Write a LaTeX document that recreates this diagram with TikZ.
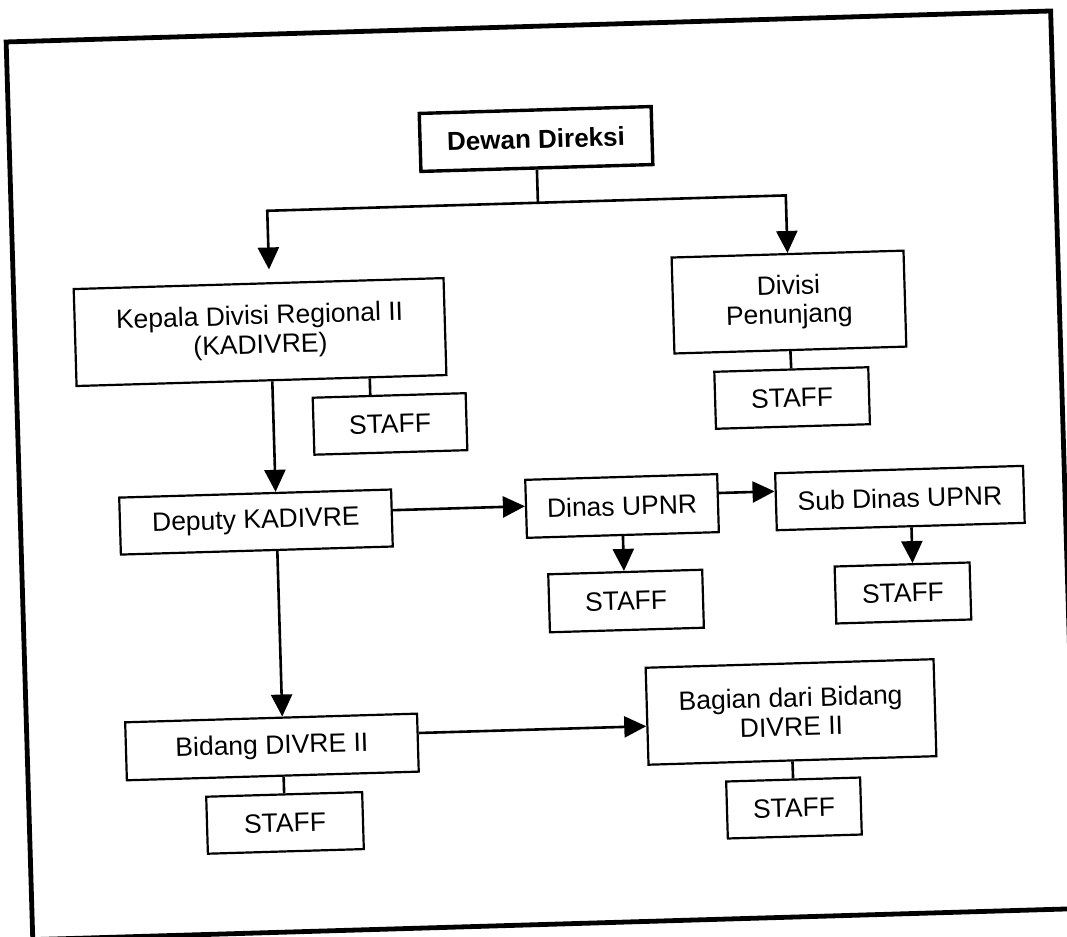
\documentclass[tikz,border=0pt]{standalone}
\usepackage{fontspec}
\setmainfont{Liberation Sans}
\usetikzlibrary{arrows.meta,calc}
\begin{document}
\begin{tikzpicture}[x=0.5pt,y=-0.5pt,
  box/.style={draw,line width=1.1pt,inner sep=0pt,align=center,font=\fontsize{13.25}{14.5}\selectfont},
  staffbox/.style={box,minimum height=28.5pt},
  arr/.style={line width=1.3pt,-{Triangle[length=11pt,width=10.5pt]}},
  link/.style={line width=1.3pt},
  frame/.style={line width=2.4pt}]
\useasboundingbox (0,0) rectangle (1067,937);
\clip (0,0) rectangle (1067,937);
\begin{scope}[rotate around={1.7:(533.5,468.5)},transform shape]
  % outer frame
  \draw[frame] (19,26.5) rectangle (1064,924.6);

  % nodes
  \node[box,minimum width=116pt,minimum height=29pt,line width=1.7pt,
        font=\bfseries\fontsize{13}{15}\selectfont] (dewan) at (545.8,139.2) {Dewan Direksi};
  \node[box,minimum width=185pt,minimum height=48.5pt] (kepala) at (264.2,324.0) {Kepala Divisi Regional II\\(KADIVRE)};
  \node[staffbox,minimum width=76.5pt] (kstaff) at (391.4,419.7) {STAFF};
  \node[box,minimum width=116pt,minimum height=48pt] (divisi) at (793.8,309.7) {Divisi\\Penunjang};
  \node[staffbox,minimum width=77pt] (dvstaff) at (794.1,405.7) {STAFF};
  \node[box,minimum width=136pt,minimum height=28.5pt] (deputy) at (254.5,513.8) {Deputy KADIVRE};
  \node[box,minimum width=96pt,minimum height=29pt] (dinas) at (620.9,508.6) {Dinas UPNR};
  \node[box,minimum width=124pt,minimum height=28.5pt] (sub) at (898.9,508.9) {Sub Dinas UPNR};
  \node[staffbox,minimum width=77pt,minimum height=29pt] (dstaff) at (622.1,603.7) {STAFF};
  \node[staffbox,minimum width=67.5pt] (sstaff) at (899.1,603.9) {STAFF};
  \node[box,minimum width=146pt,minimum height=29pt] (bidang) at (263.8,739.1) {Bidang DIVRE II};
  \node[staffbox,minimum width=78pt] (bstaff) at (274.6,815.4) {STAFF};
  \node[box,minimum width=144pt,minimum height=48.5pt] (bagian) at (783.7,719.5) {Bagian dari Bidang\\DIVRE II};
  \node[staffbox,minimum width=67pt] (bgstaff) at (783.8,815.6) {STAFF};

  % helper coordinates
  \coordinate (j) at (545.8,203);
  \coordinate (colL) at (275,203);
  \coordinate (tipL) at (275,261.7);
  \coordinate (stubK) at (372.5,0);
  \coordinate (row1) at (0,506);
  \coordinate (row2) at (0,498.5);
  \coordinate (colS) at (909.6,0);
  \coordinate (row3) at (0,729.5);

  % connectors
  \draw[link] (dewan.south) -- (j);
  \draw[arr] (j) -| (tipL);
  \draw[arr] (j) -| (divisi.north);
  \draw[link] (stubK |- kepala.south) -- (stubK |- kstaff.north);
  \draw[arr] (colL |- kepala.south) -- (colL |- deputy.north);
  \draw[link] (divisi.south) -- (dvstaff.north);
  \draw[arr] (row1 -| deputy.east) -- (row1 -| dinas.west);
  \draw[arr] (row2 -| dinas.east) -- (row2 -| sub.west);
  \draw[arr] (dinas.south) -- (dinas.south |- dstaff.north);
  \draw[arr] (colS |- sub.south) -- (colS |- sstaff.north);
  \draw[arr] (colL |- deputy.south) -- (colL |- bidang.north);
  \draw[arr] (row3 -| bidang.east) -- (row3 -| bagian.west);
  \draw[link] (bstaff.north |- bidang.south) -- (bstaff.north);
  \draw[link] (bagian.south) -- (bgstaff.north);
\end{scope}
\end{tikzpicture}
\end{document}
